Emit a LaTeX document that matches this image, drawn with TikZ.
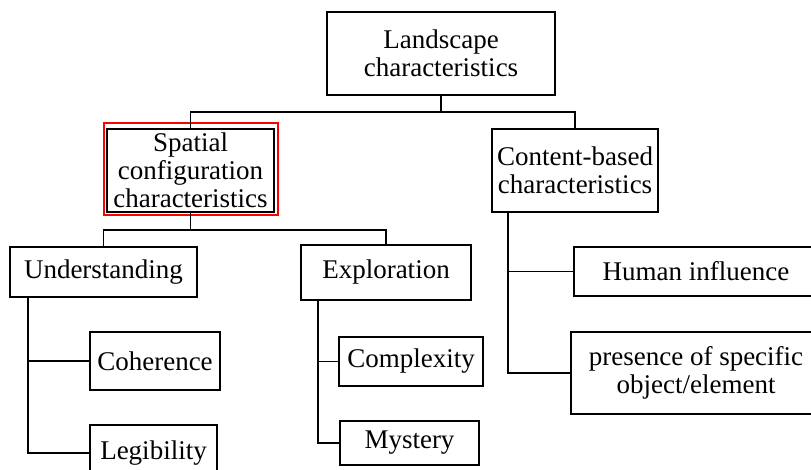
\documentclass[tikz,border=0pt]{standalone}
\usepackage{fontspec}
\setmainfont{Liberation Serif}
\usetikzlibrary{calc}
\begin{document}
\begin{tikzpicture}[x=1pt,y=-1pt,
  box/.style={draw, line width=1.6pt, inner sep=0pt, align=center,
    font=\fontsize{27}{28}\selectfont},
  conn/.style={line width=1.5pt}]
\useasboundingbox (0,0) rectangle (811,470);
\clip (0,0) rectangle (811,470);
% nodes
\node[box, minimum width=228pt, minimum height=83pt] (land) at (441,53.5) {Landscape\\characteristics};
\node[box, minimum width=167pt, minimum height=83pt] (sp) at (190.5,170.5) {Spatial\\configuration\\characteristics};
\node[box, minimum width=166pt, minimum height=83pt] (cb) at (575,170.5) {Content-based\\characteristics};
\node[box, minimum width=187pt, minimum height=50pt] (un) at (103.5,272) {Understanding};
\node[box, minimum width=170pt, minimum height=55pt] (ex) at (386,272.5) {Exploration};
\node[box, minimum width=130pt, minimum height=58pt] (coh) at (155,361) {Coherence};
\node[box, minimum width=127pt, minimum height=56pt] (leg) at (153.5,453) {Legibility};
\node[box, minimum width=144pt, minimum height=49pt] (cx) at (411,361.5) {Complexity};
\node[box, minimum width=139pt, minimum height=44pt] (my) at (409.5,443) {Mystery};
\node[box, minimum width=244pt, minimum height=49pt] (hi) at (696,271.5) {Human influence};
\node[box, minimum width=250pt, minimum height=82pt] (pr) at (696,373) {presence of specific\\object/element};
% highlight
\draw[red, line width=1.8pt] ($(sp.north west)+(-2,-5)$) rectangle ($(sp.south east)+(3,2)$);
% connectors
\coordinate (b1) at (441,112);
\coordinate (b2) at (190.5,230);
\draw[conn] (land.south) -- (b1);
\draw[conn] (sp.north) |- (b1) -| (cb.north);
\draw[conn] (sp.south) -- (b2);
\draw[conn] (un.north) |- (b2) -| (ex.north);
\draw[conn] ([xshift=19pt]un.south west) |- (coh.west);
\draw[conn] ([xshift=19pt]un.south west) |- (leg.west);
\draw[conn] ([xshift=18pt]ex.south west) |- (cx.west);
\draw[conn] ([xshift=18pt]ex.south west) |- (my.west);
\draw[conn] ([xshift=17pt]cb.south west) |- (hi.west);
\draw[conn] ([xshift=17pt]cb.south west) |- (pr.west);
\end{tikzpicture}
\end{document}
